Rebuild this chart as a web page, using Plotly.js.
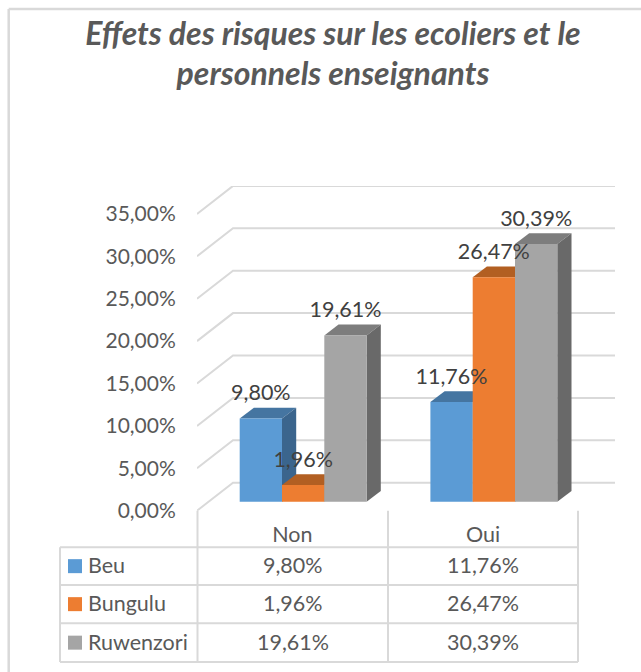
<!DOCTYPE html>
<html>
<head>
<meta charset="utf-8">
<script src="https://cdn.plot.ly/plotly-3.0.1.min.js"></script>
<style>html,body{margin:0;padding:0;background:#fff}</style>
</head>
<body>
<div id="chart" style="width:641px;height:672px"></div>
<script>
const categories = ["Non", "Oui"];
const seriesNames = ["Beu", "Bungulu", "Ruwenzori"];
const beu = [9.80, 11.76];
const bungulu = [1.96, 26.47];
const ruwenzori = [19.61, 30.39];
const tickValues = [0, 5, 10, 15, 20, 25, 30, 35];
const frontColors = ["#5B9BD5", "#ED7D31", "#A5A5A5"];
const topColors = ["#4575A1", "#B25F22", "#7D7D7D"];
const sideColors = ["#3B658D", "#9C5320", "#696969"];

const W = 641, H = 672;
const pxPerCat = 190.7, pxPerPct = 8.48;
const plotL = 197, plotR = 615, plotT = 186, plotB = 510.7;
const xMin = -0.5, xMax = xMin + (plotR - plotL) / pxPerCat;
const yMax = (plotB - plotT) / pxPerPct;
const wallDx = 36 / pxPerCat, wallDy = 28 / pxPerPct;
const barShiftX = 10.8 / pxPerCat, barBase = 9 / pxPerPct;
const barW = 42.3 / pxPerCat, depthDx = 14.2 / pxPerCat, depthDy = 10.8 / pxPerPct;
const labelLift = 23.5 / pxPerPct;
const gridColor = "#D9D9D9", textColor = "#595959", labelColor = "#404040";
const fontName = "Lato, 'Open Sans', sans-serif";

const fmt = v => v.toFixed(2).replace(".", ",") + "%";
const allSeries = [beu, bungulu, ruwenzori];
const traces = [];

// left wall and back wall gridlines
tickValues.forEach(v => {
  traces.push({
    type: "scatter", mode: "lines", hoverinfo: "skip", showlegend: false,
    x: [xMin, xMin + wallDx, xMax], y: [v, v + wallDy, v + wallDy],
    line: {color: gridColor, width: 2}
  });
});

// top and side faces of every bar
allSeries.forEach((vals, s) => {
  vals.forEach((v, c) => {
    const left = c + barShiftX + (s - 1.5) * barW, right = left + barW;
    const top = barBase + v;
    traces.push({
      type: "scatter", mode: "lines", fill: "toself", hoverinfo: "skip", showlegend: false,
      x: [left, right, right + depthDx, left + depthDx, left],
      y: [top, top, top + depthDy, top + depthDy, top],
      line: {width: 0, color: topColors[s]}, fillcolor: topColors[s]
    });
    traces.push({
      type: "scatter", mode: "lines", fill: "toself", hoverinfo: "skip", showlegend: false,
      x: [right, right + depthDx, right + depthDx, right, right],
      y: [top, top + depthDy, barBase + depthDy, barBase, top],
      line: {width: 0, color: sideColors[s]}, fillcolor: sideColors[s]
    });
  });
});

// front faces, on the overlay axes
allSeries.forEach((vals, s) => {
  traces.push({
    type: "bar", xaxis: "x2", yaxis: "y2", name: seriesNames[s], showlegend: false,
    x: categories.map((_, c) => c + barShiftX), y: vals,
    base: vals.map(() => barBase),
    width: barW, offset: (s - 1.5) * barW,
    marker: {color: frontColors[s], line: {width: 0}}
  });
});

// data labels
allSeries.forEach((vals, s) => {
  traces.push({
    type: "scatter", mode: "text", xaxis: "x2", yaxis: "y2", hoverinfo: "skip", showlegend: false,
    x: categories.map((_, c) => c + barShiftX + (s - 1) * barW),
    y: vals.map(v => barBase + v + labelLift),
    text: vals.map(fmt), textposition: "middle center",
    textfont: {family: fontName, size: 21.5, color: labelColor}, cliponaxis: false
  });
});

// data table
const rowY = [547.3, 585, 623.3, 662];
const colX = [60, 197.5, 388, 578];
const px = x => x / W, py = y => 1 - y / H;
const hLine = (y, x0, x1, w) => ({type: "line", xref: "paper", yref: "paper", x0: px(x0), x1: px(x1), y0: py(y), y1: py(y), line: {color: gridColor, width: w || 2}});
const vLine = (x, y0, y1, w) => ({type: "line", xref: "paper", yref: "paper", x0: px(x), x1: px(x), y0: py(y0), y1: py(y1), line: {color: gridColor, width: w || 2}});
const shapes = [];
rowY.forEach(y => shapes.push(hLine(y, colX[0], colX[3])));
shapes.push(vLine(colX[0], rowY[0], rowY[3]));
colX.slice(1).forEach(x => shapes.push(vLine(x, plotB, rowY[3])));
// chart frame
shapes.push(vLine(8.7, 9, H, 2.5), hLine(9, 8.7, W, 2.5));
const annotations = [];
const ann = (text, x, y, anchor) => ({text, xref: "paper", yref: "paper", x: px(x), y: py(y), xanchor: anchor, yanchor: "middle", showarrow: false, font: {family: fontName, size: 21.5, color: textColor}});
seriesNames.forEach((name, s) => {
  const mid = (rowY[s] + rowY[s + 1]) / 2;
  shapes.push({type: "rect", xref: "paper", yref: "paper", x0: px(68), x1: px(82), y0: py(mid - 7), y1: py(mid + 7), fillcolor: frontColors[s], line: {width: 0}});
  annotations.push(ann(name, 86, mid - 1, "left"));
  categories.forEach((_, c) => {
    annotations.push(ann(fmt(allSeries[s][c]), (colX[c + 1] + colX[c + 2]) / 2, mid - 1, "center"));
  });
});

const layout = {
  width: W, height: H, margin: {l: 0, r: 0, t: 0, b: 0},
  paper_bgcolor: "#fff", plot_bgcolor: "rgba(0,0,0,0)", showlegend: false,
  title: {
    text: '<span style="font-size:32px"><b><i>Effets des risques sur les ecoliers et le</i></b></span><br><span style="font-size:32px"><b><i>personnels enseignants</i></b></span>',
    font: {family: fontName, size: 31, color: textColor},
    x: 333 / W, xanchor: "center", y: 1 - 45 / H, yanchor: "top"
  },
  xaxis: {
    domain: [px(plotL), px(plotR)], range: [xMin, xMax], showgrid: false, zeroline: false,
    tickmode: "array", tickvals: categories.map((_, c) => c), ticktext: categories,
    ticks: "outside", ticklen: 4, tickcolor: "rgba(0,0,0,0)", showline: false,
    tickfont: {family: fontName, size: 21.5, color: textColor}
  },
  yaxis: {
    domain: [py(plotB), py(plotT)], range: [0, yMax], showgrid: false, zeroline: false,
    tickmode: "array", tickvals: tickValues, ticktext: tickValues.map(fmt),
    ticks: "outside", ticklen: 16, tickcolor: "rgba(0,0,0,0)", showline: false,
    tickfont: {family: fontName, size: 21, color: textColor}
  },
  xaxis2: {domain: [px(plotL), px(plotR)], range: [xMin, xMax], overlaying: "x", visible: false},
  yaxis2: {domain: [py(plotB), py(plotT)], range: [0, yMax], overlaying: "y", visible: false},
  barmode: "overlay",
  shapes, annotations
};
Plotly.newPlot("chart", traces, layout, {displayModeBar: false, staticPlot: true});
</script>
</body>
</html>
